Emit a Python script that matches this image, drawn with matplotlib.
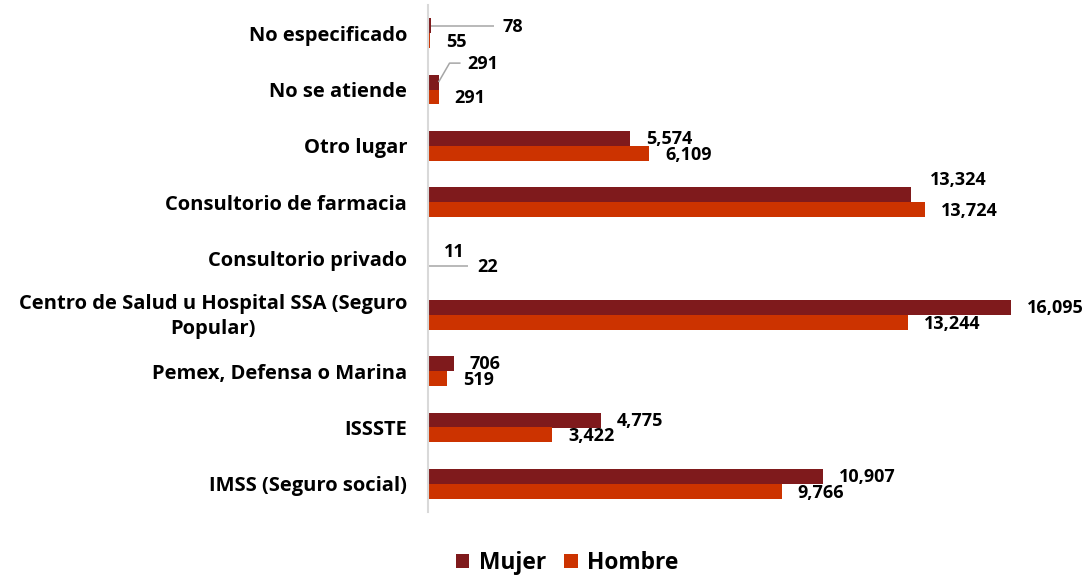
import matplotlib
matplotlib.use("Agg")
import matplotlib.pyplot as plt
from matplotlib.transforms import ScaledTranslation, blended_transform_factory
from matplotlib.patches import Patch

# ---------------- data ----------------
categories = [
    "IMSS (Seguro social)",
    "ISSSTE",
    "Pemex, Defensa o Marina",
    "Centro de Salud u Hospital SSA (Seguro\nPopular)",
    "Consultorio privado",
    "Consultorio de farmacia",
    "Otro lugar",
    "No se atiende",
    "No especificado",
]
mujer = [10907, 4775, 706, 16095, 11, 13324, 5574, 291, 78]
hombre = [9766, 3422, 519, 13244, 22, 13724, 6109, 291, 55]
series_names = ["Mujer", "Hombre"]

# ---------------- style ----------------
COL_M = "#7F1A1C"
COL_H = "#CC3300"
FONT = ["Open Sans", "DejaVu Sans"]
W, H = 1088, 579
DPI = 100
CAT_FS = 14.5
VAL_FS = 13.0

plt.rcParams["font.family"] = FONT
plt.rcParams["font.weight"] = "bold"

fig = plt.figure(figsize=(W / DPI, H / DPI), dpi=DPI)
ax = fig.add_axes([428 / W, 1 - 512 / H, (1080 - 428) / W, (512 - 5) / H])

n = len(categories)
ypos = list(range(n))
bh = 0.262
ym = [y + bh / 2 for y in ypos]
yh = [y - bh / 2 for y in ypos]
ax.barh(ym, mujer, height=bh, color=COL_M, linewidth=0)
ax.barh(yh, hombre, height=bh, color=COL_H, linewidth=0)

ax.set_xlim(0, 18000)
ax.set_ylim(-0.5, n - 0.5)
ax.set_yticks(ypos)
ax.set_yticklabels([c if "\n" not in c else "" for c in categories],
                   fontsize=CAT_FS, fontweight="bold", color="black")
ax.tick_params(axis="y", length=0, pad=15)
ax.set_xticks([])
for s in ["top", "right", "bottom"]:
    ax.spines[s].set_visible(False)
ax.spines["left"].set_color("#D9D9D9")
ax.spines["left"].set_linewidth(1.5)

# wrapped category label: lines centred on each other, block right-aligned
renderer = fig.canvas.get_renderer()
ytrans = blended_transform_factory(ax.transAxes, ax.transData)
for i, c in enumerate(categories):
    if "\n" not in c:
        continue
    lines = c.split("\n")
    line_h = 25  # px
    tmp = [ax.text(0, i, ln, fontsize=CAT_FS, fontweight="bold") for ln in lines]
    widths = [t.get_window_extent(renderer).width for t in tmp]
    for t in tmp:
        t.remove()
    wmax = max(widths)
    right_px = 21
    centre_off = -(right_px + wmax / 2)
    nl = len(lines)
    for k, ln in enumerate(lines):
        dy = (k - (nl - 1) / 2) * line_h + 2
        tr = ytrans + ScaledTranslation(centre_off / DPI, -dy / DPI, fig.dpi_scale_trans)
        ax.text(0, i, ln, transform=tr, ha="center", va="center",
                fontsize=CAT_FS, fontweight="bold", color="black")

# label offsets in image pixels (dx right, dy down) from bar end / bar centre
def_m = (16, 0.5)
def_h = (16, 1.5)
off_m = {5: (19, -15), 8: (72, 1), 7: (29, -18)}
off_h = {4: (48, 1)}

def off_trans(dx, dy):
    return ax.transData + ScaledTranslation(dx / DPI, -dy / DPI, fig.dpi_scale_trans)

for i in range(n):
    dx, dy = off_m.get(i, def_m)
    ax.text(mujer[i], ym[i], f"{mujer[i]:,}", transform=off_trans(dx, dy),
            ha="left", va="center", fontsize=VAL_FS, fontweight="bold", color="black")
    dx, dy = off_h.get(i, def_h)
    ax.text(hombre[i], yh[i], f"{hombre[i]:,}", transform=off_trans(dx, dy),
            ha="left", va="center", fontsize=VAL_FS, fontweight="bold", color="black")

# leader lines (pixel offsets from bar end)
leaders = [
    (mujer, ym, 8, [(0, 0), (63, 0)]),
    (mujer, ym, 7, [(0, 0), (11, -19), (22, -19)]),
    (hombre, yh, 4, [(0, 0), (39, 0)]),
]
for vals, yy, i, pts in leaders:
    x0, y0 = vals[i], yy[i]
    disp0 = ax.transData.transform((x0, y0))
    xs = [disp0[0] + p[0] for p in pts]
    ys = [disp0[1] - p[1] for p in pts]
    inv = ax.transData.inverted()
    data_pts = [inv.transform((a, b)) for a, b in zip(xs, ys)]
    ax.plot([d[0] for d in data_pts], [d[1] for d in data_pts],
            color="#A6A6A6", linewidth=1.1, clip_on=False, solid_capstyle="butt")

handles = [Patch(facecolor=COL_M, edgecolor="none"), Patch(facecolor=COL_H, edgecolor="none")]
fig.legend(handles, series_names, loc="center", ncol=2, frameon=False,
           bbox_to_anchor=(567 / W, 1 - 563 / H), bbox_transform=fig.transFigure,
           prop={"family": FONT, "weight": "bold", "size": 16.4},
           handlelength=0.6, handleheight=0.6, handletextpad=0.4, columnspacing=0.8)

fig.savefig("out.png", dpi=DPI)
